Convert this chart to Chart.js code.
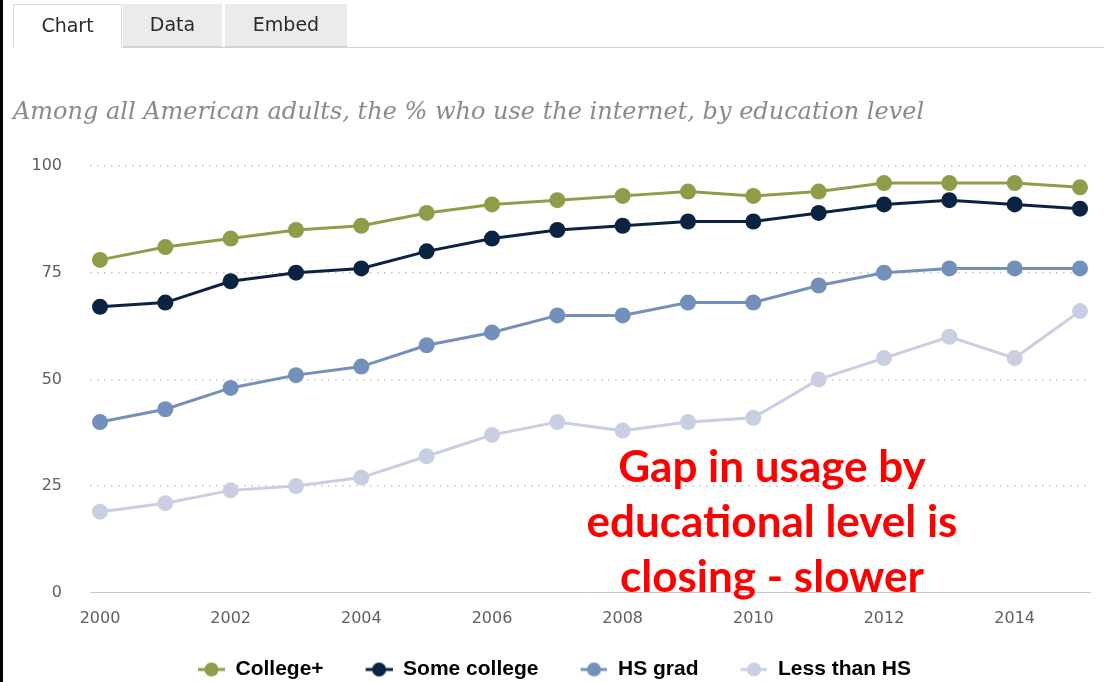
<!DOCTYPE html>
<html>
<head>
<meta charset="utf-8">
<script src="https://cdn.jsdelivr.net/npm/chart.js@4"></script>
<style>
  html, body { margin: 0; padding: 0; background: #fff; }
  body { width: 1104px; height: 682px; position: relative; overflow: hidden; }
  .edge { position: absolute; left: 0; top: 0; width: 3px; height: 682px; background: #000; }
  .tabs { position: absolute; left: 13px; top: 4px; right: 0; height: 43px; border-bottom: 1px solid #d4d4d4; }
  .tab { position: absolute; top: 0; height: 42px; line-height: 40px; text-align: center;
         font-family: "DejaVu Sans", sans-serif; font-size: 19px; color: #2a2a2a; background: #ebebeb;
         border-bottom: 1px solid #d4d4d4; }
  .tab.on { background: #fff; border: 1px solid #ddd; border-bottom: 1px solid #fff; height: 42px; }
  .sub { position: absolute; left: 13px; top: 97px; font-family: "DejaVu Serif", serif; font-style: italic;
         font-size: 24px; color: #8a8a8a; white-space: nowrap; }
  .note { position: absolute; left: 522px; width: 500px; top: 438px; text-align: center;
          font-family: Lato, sans-serif; font-weight: bold; font-size: 44px; line-height: 55px; color: #ff0000; }
  #chart { position: absolute; left: 0; top: 0; }
</style>
</head>
<body>
<canvas id="chart" width="1104" height="690"></canvas>
<div class="edge"></div>
<div class="tabs">
  <div class="tab on" style="left:0;width:107px;">Chart</div>
  <div class="tab" style="left:110px;width:99px;">Data</div>
  <div class="tab" style="left:212px;width:122px;">Embed</div>
</div>
<div class="sub">Among all American adults, the % who use the internet, by education level</div>
<div class="note">Gap in usage by<br>educational level is<br>closing - slower</div>
<script>
const years = [2000, 2001, 2002, 2003, 2004, 2005, 2006, 2007, 2008, 2009, 2010, 2011, 2012, 2013, 2014, 2015];
const collegePlus = [78, 81, 83, 85, 86, 89, 91, 92, 93, 94, 93, 94, 96, 96, 96, 95];
const someCollege = [67, 68, 73, 75, 76, 80, 83, 85, 86, 87, 87, 89, 91, 92, 91, 90];
const hsGrad = [40, 43, 48, 51, 53, 58, 61, 65, 65, 68, 68, 72, 75, 76, 76, 76];
const lessThanHs = [19, 21, 24, 25, 27, 32, 37, 40, 38, 40, 41, 50, 55, 60, 55, 66];
const seriesNames = ['College+', 'Some college', 'HS grad', 'Less than HS'];
const xTicks = [2000, 2002, 2004, 2006, 2008, 2010, 2012, 2014];
const yTicks = [0, 25, 50, 75, 100];

const colors = ['#8f9d49', '#0b2343', '#7390ba', '#c9cfe2'];

function pairs(vals) {
    return years.map((y, i) => ({ x: y, y: vals[i] }));
}

// legend marker: short line with a dot on it (left part left blank for spacing)
function marker(color) {
    const c = document.createElement('canvas');
    c.width = 46; c.height = 16;
    const g = c.getContext('2d');
    g.strokeStyle = color; g.lineWidth = 3;
    g.beginPath(); g.moveTo(19, 8); g.lineTo(46, 8); g.stroke();
    g.fillStyle = color;
    g.beginPath(); g.arc(32.5, 8, 7, 0, Math.PI * 2); g.fill();
    return c;
}

const allSeries = [collegePlus, someCollege, hsGrad, lessThanHs];
const datasets = allSeries.map((vals, i) => ({
    label: seriesNames[i],
    data: pairs(vals),
    borderColor: colors[i],
    backgroundColor: colors[i],
    borderWidth: 3,
    pointRadius: 8,
    pointHoverRadius: 8,
    pointBorderWidth: 0,
    tension: 0
}));

new Chart(document.getElementById('chart').getContext('2d'), {
    type: 'line',
    data: { datasets: datasets },
    options: {
        responsive: false,
        animation: false,
        layout: { padding: { top: 166, right: 14, left: 0, bottom: 0 } },
        plugins: {
            tooltip: { enabled: false },
            legend: {
                position: 'bottom',
                labels: {
                    usePointStyle: true,
                    pointStyleWidth: 46,
                    padding: 23,
                    color: '#2a2a2a',
                    font: { family: '"Liberation Sans Narrow", "Liberation Sans", sans-serif', size: 21, weight: 'bold' },
                    generateLabels: chart => chart.data.datasets.map((ds, i) => ({
                        text: ds.label,
                        pointStyle: marker(colors[i]),
                        fillStyle: colors[i],
                        strokeStyle: colors[i],
                        lineWidth: 0,
                        hidden: false,
                        datasetIndex: i
                    }))
                }
            }
        },
        scales: {
            x: {
                type: 'linear',
                min: 1999.847,
                max: 2015.153,
                afterBuildTicks: s => { s.ticks = xTicks.map(v => ({ value: v })); },
                grid: { display: false },
                border: { color: '#b7cbe0', width: 1 },
                ticks: {
                    color: '#5f5f5f',
                    padding: 8,
                    font: { family: '"DejaVu Sans", sans-serif', size: 16 },
                    callback: v => String(v)
                }
            },
            y: {
                min: 0,
                max: 100,
                afterBuildTicks: s => { s.ticks = yTicks.map(v => ({ value: v })); },
                afterFit: s => { s.width = 90; },
                grid: {
                    color: ctx => ctx.tick && ctx.tick.value === 0 ? 'rgba(0,0,0,0)' : '#c4c4c4',
                    lineWidth: 1.5,
                    drawTicks: false
                },
                border: { display: false, dash: [1.5, 5.5] },
                ticks: {
                    color: '#5f5f5f',
                    padding: 28,
                    font: { family: '"DejaVu Sans", sans-serif', size: 16 }
                }
            }
        }
    }
});
</script>
</body>
</html>
